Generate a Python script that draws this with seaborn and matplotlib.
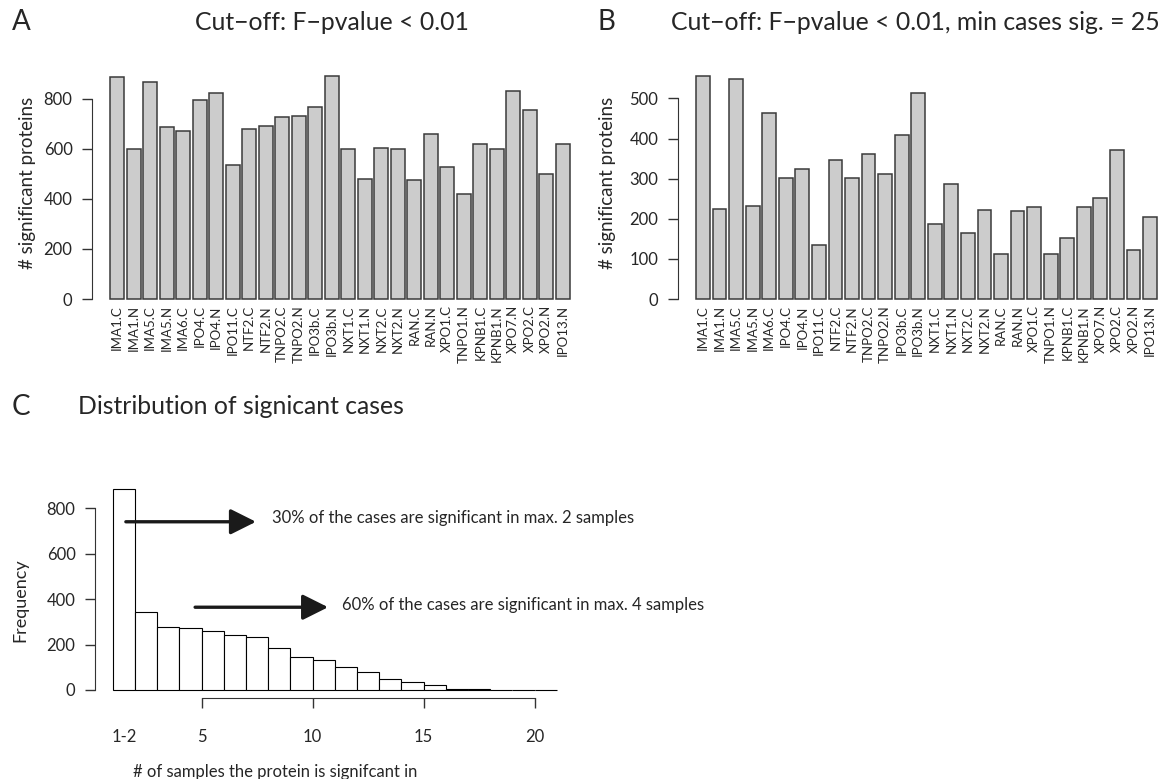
import numpy as np
import seaborn as sns
import matplotlib.pyplot as plt

# proteins / fractions on the x axis of panels A and B
categories = ["IMA1.C", "IMA1.N", "IMA5.C", "IMA5.N", "IMA6.C", "IPO4.C", "IPO4.N",
              "IPO11.C", "NTF2.C", "NTF2.N", "TNPO2.C", "TNPO2.N", "IPO3b.C", "IPO3b.N",
              "NXT1.C", "NXT1.N", "NXT2.C", "NXT2.N", "RAN.C", "RAN.N", "XPO1.C",
              "TNPO1.N", "KPNB1.C", "KPNB1.N", "XPO7.N", "XPO2.C", "XPO2.N", "IPO13.N"]

# panel A: F-pvalue < 0.01
sig_pval = [885, 601, 866, 687, 670, 793, 821, 535, 681, 693, 725, 730, 766, 889,
            601, 481, 605, 599, 475, 660, 529, 420, 621, 599, 832, 753, 501, 619]

# panel B: F-pvalue < 0.01, min cases sig. = 25
sig_min25 = [555, 225, 548, 233, 464, 301, 324, 134, 347, 301, 361, 313, 409, 514,
             187, 286, 164, 221, 113, 219, 229, 113, 153, 229, 253, 371, 123, 205]

# panel C: histogram of number of samples a protein is significant in
hist_edges = list(range(1, 22))
hist_counts = [884, 342, 275, 272, 261, 240, 232, 185, 145, 132,
               100, 81, 48, 37, 22, 6, 5, 2, 1, 1]

sns.set_style("white")
plt.rcParams['font.family'] = ['Lato', 'DejaVu Sans']

W, H = 1172, 779
fig = plt.figure(figsize=(W / 100, H / 100), dpi=100)


def px_rect(left, top, right, bottom):
    return [left / W, 1 - bottom / H, (right - left) / W, (bottom - top) / H]


def fig_text(x, y, s, **kw):
    fig.text(x / W, 1 - y / H, s, **kw)


def bar_panel(rect, values, ymax, yticks):
    ax = fig.add_axes(rect)
    sns.barplot(x=categories, y=values, color="#cccccc", edgecolor="#3a3a3a",
                linewidth=1.1, width=1 / 1.2, saturation=1, ax=ax)
    n = len(values)
    span = n - 1 + 1 / 1.2
    ax.set_xlim(-0.5 / 1.2 - 0.04 * span, n - 1 + 0.5 / 1.2 + 0.04 * span)
    ax.set_ylim(-0.04 * ymax, ymax * 1.04)
    for s in ["top", "right", "bottom"]:
        ax.spines[s].set_visible(False)
    ax.spines["left"].set_bounds(yticks[0], yticks[-1])
    ax.spines["left"].set_color("#333333")
    ax.set_yticks(yticks)
    ax.tick_params(axis="y", length=7, width=1, color="#333333", labelsize=12,
                   pad=7, left=True)
    ax.tick_params(axis="x", length=0, labelsize=9.5, labelrotation=90, pad=-2)
    ax.set_xlabel("")
    ax.set_ylabel("")
    return ax


ax_a = bar_panel(px_rect(92, 67.5, 588, 308), sig_pval, max(sig_pval),
                 [0, 200, 400, 600, 800])
ax_b = bar_panel(px_rect(677.6, 67.5, 1175.4, 308), sig_min25, max(sig_min25),
                 [0, 100, 200, 300, 400, 500])

# panel C
ax_c = fig.add_axes(px_rect(95, 481, 574.5, 698))
centers = [e + 0.5 for e in hist_edges[:-1]]
sns.histplot(x=centers, weights=hist_counts, bins=hist_edges, color="white",
             edgecolor="black", linewidth=0.8, alpha=1, ax=ax_c)
ymax = max(hist_counts)
ax_c.set_xlim(1 - 0.8, 21 + 0.8)
ax_c.set_ylim(-0.04 * ymax, ymax * 1.04)
for s in ["top", "right"]:
    ax_c.spines[s].set_visible(False)
ax_c.spines["left"].set_bounds(0, 800)
ax_c.spines["bottom"].set_bounds(5, 20)
ax_c.spines["left"].set_color("#333333")
ax_c.spines["bottom"].set_color("#333333")
ax_c.set_yticks([0, 200, 400, 600, 800])
ax_c.set_xticks([5, 10, 15, 20])
ax_c.set_xticks([1.5], ["1-2"], minor=True)
ax_c.tick_params(axis="y", length=7, width=1, color="#333333", labelsize=12,
                 pad=7, left=True)
ax_c.tick_params(axis="x", which="major", length=7, width=1, color="#333333",
                 labelsize=12, pad=15, bottom=True)
ax_c.tick_params(axis="x", which="minor", length=0, labelsize=12, pad=22)
ax_c.set_xlabel("")
ax_c.set_ylabel("")

arrow_kw = dict(arrowstyle="-|>,head_length=1.2,head_width=0.6", color="#1a1a1a",
                lw=2.4, mutation_scale=13, shrinkA=0, shrinkB=0)
ax_c.annotate("", xy=(7.45, 740), xytext=(1.59, 740), arrowprops=arrow_kw,
              annotation_clip=False)
ax_c.annotate("", xy=(10.7, 364), xytext=(4.71, 364), arrowprops=arrow_kw,
              annotation_clip=False)
ax_c.text(8.18, 755, "30% of the cases are significant in max. 2 samples",
          fontsize=12, va="center", ha="left", clip_on=False)
ax_c.text(11.32, 372, "60% of the cases are significant in max. 4 samples",
          fontsize=12, va="center", ha="left", clip_on=False)

# titles, panel letters and axis labels
fig_text(12, 22, "A", fontsize=20, va="center", ha="left")
fig_text(598, 22, "B", fontsize=20, va="center", ha="left")
fig_text(12, 407, "C", fontsize=20, va="center", ha="left")
fig_text(332, 22, "Cut\u2212off: F\u2212pvalue < 0.01", fontsize=17.8, va="center", ha="center")
fig_text(915, 22, "Cut\u2212off: F\u2212pvalue < 0.01, min cases sig. = 25", fontsize=17.8,
         va="center", ha="center")
fig_text(78, 407, "Distribution of signicant cases", fontsize=17.8, va="center", ha="left")
fig_text(28, 183, "# significant proteins", fontsize=13.5, rotation=90, va="center", ha="center")
fig_text(608, 183, "# significant proteins", fontsize=13.5, rotation=90, va="center", ha="center")
fig_text(20, 600, "Frequency", fontsize=13, rotation=90, va="center", ha="center")
fig_text(133, 772, "# of samples the protein is signifcant in", fontsize=12,
         va="center", ha="left")

fig.savefig("out.png", dpi=100)
